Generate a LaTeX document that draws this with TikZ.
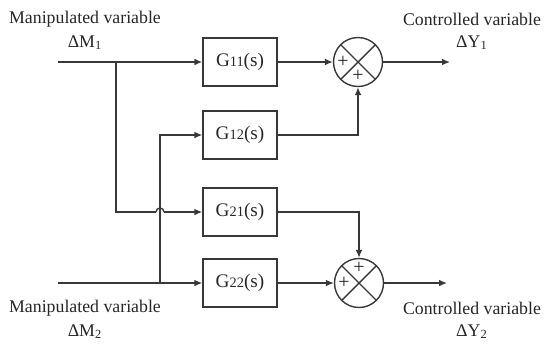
\documentclass[tikz,border=0pt]{standalone}
\usepackage{fontspec}
\setmainfont{Liberation Serif}
\usetikzlibrary{arrows.meta, calc, positioning}

\begin{document}
\begin{tikzpicture}[x=0.5pt, y=-0.5pt,
    every node/.style={text=black!85, font=\fontsize{8.9}{10}\selectfont},
    wire/.style={draw=black!78, line width=0.7pt},
    arr/.style={wire, -{Latex[length=4pt, width=3.4pt]}},
    blk/.style={wire, rectangle, minimum width=37pt, minimum height=24pt, inner sep=0pt,
        font=\fontsize{9.6}{10}\selectfont},
    sumj/.style={wire, circle, minimum size=24.5pt, inner sep=0pt,
        path picture={\draw[black!78, line width=0.7pt]
            (path picture bounding box.north west) -- (path picture bounding box.south east)
            (path picture bounding box.north east) -- (path picture bounding box.south west);}},
    sgn/.style={font=\fontsize{10}{10}\selectfont, inner sep=0pt}]
    \useasboundingbox (0, 0) rectangle (544, 344);
    \node (mv1) at (85, 19) {Manipulated variable};
    \node (dm1) at (85, 43) {ΔM\textsubscript{1}};
    \node (cv1) at (472, 19) {Controlled variable};
    \node (dy1) at (472, 43) {ΔY\textsubscript{1}};
    \node (mv2) at (85, 308) {Manipulated variable};
    \node (dm2) at (85, 332) {ΔM\textsubscript{2}};
    \node (cv2) at (472, 308) {Controlled variable};
    \node (dy2) at (472, 332) {ΔY\textsubscript{2}};
    \node (g11) [blk] at (240, 62) {G{\fontsize{7.2}{8}\selectfont 11}(s)};
    \node (g12) [blk] at (240, 135) {G{\fontsize{7.2}{8}\selectfont 12}(s)};
    \node (g21) [blk] at (240, 212) {G{\fontsize{7.2}{8}\selectfont 21}(s)};
    \node (g22) [blk] at (240, 283) {G{\fontsize{7.2}{8}\selectfont 22}(s)};
    \node (s1) [sumj] at (358, 62) {};
    \node (s2) [sumj] at (359, 283) {};
    \node (s1a) [sgn] at ($(s1) + (-15, 0)$) {+};
    \node (s1b) [sgn] at ($(s1) + (0, 14)$) {+};
    \node (s2a) [sgn] at ($(s2) + (0, -15)$) {+};
    \node (s2b) [sgn] at ($(s2) + (-15, 0)$) {+};
    \coordinate (in1) at (58, 62);
    \coordinate (in2) at (58, 283);
    \coordinate (br1) at (116, 62);
    \coordinate (br2) at (160, 283);
    \coordinate (jl) at (156, 212);
    \coordinate (jr) at (164, 212);
    \coordinate (out1) at (450, 62);
    \coordinate (out2) at (447, 283);
    \draw[arr] (in1) -- (g11);
    \draw[arr] (in2) -- (g22);
    \draw[wire] (br1) |- (jl);
    \draw[wire] (jl) arc[start angle=180, end angle=0, radius=2pt];
    \draw[arr] (jr) -- (g21.west);
    \draw[arr] (br2) |- (g12.west);
    \draw[arr] (g11) -- (s1);
    \draw[arr] (g12) -| (s1);
    \draw[arr] (g21) -| (s2);
    \draw[arr] (g22) -- (s2);
    \draw[arr] (s1) -- (out1);
    \draw[arr] (s2) -- (out2);
\end{tikzpicture}
\end{document}
